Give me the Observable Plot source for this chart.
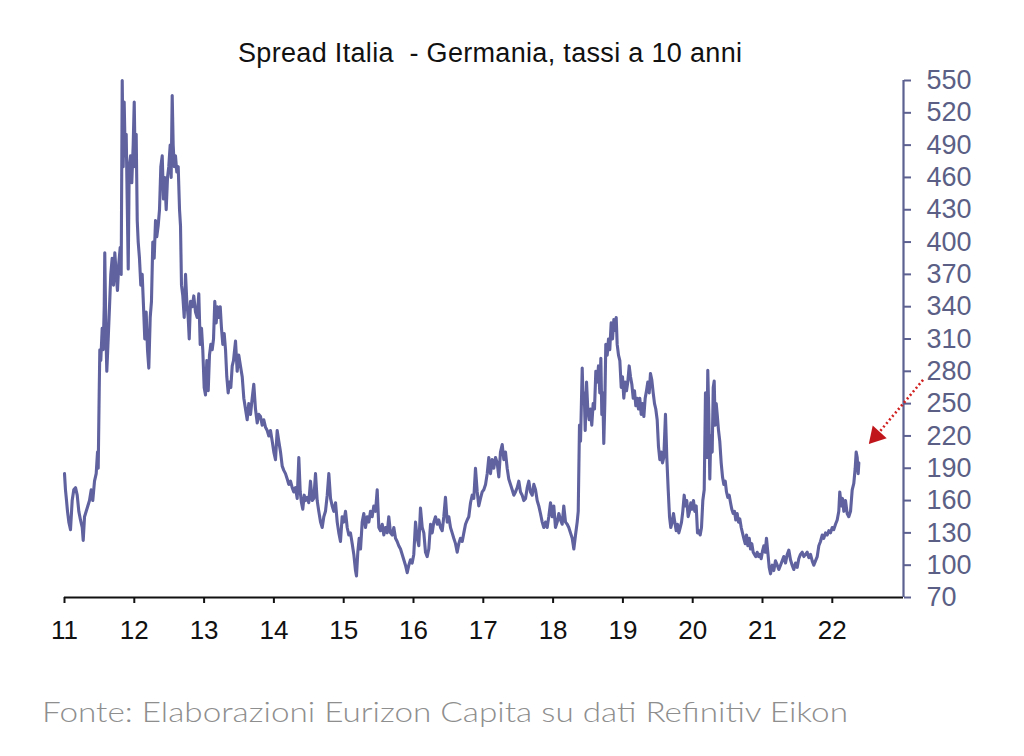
<!DOCTYPE html>
<html>
<head>
<meta charset="utf-8">
<script src="https://cdn.jsdelivr.net/npm/d3@7"></script>
<script src="https://cdn.jsdelivr.net/npm/@observablehq/plot@0.6"></script>
<style>
  html, body { margin: 0; padding: 0; background: #fff; }
  body { width: 1024px; height: 756px; position: relative; overflow: hidden; }
  #title { position: absolute; left: 238px; top: 40px; font-family: "Liberation Sans", Arial, sans-serif; font-size: 27px; line-height: 27px; color: #111; white-space: pre; display: inline-block; }
  #chart { position: absolute; left: 0; top: 70px; }
  #caption { position: absolute; left: 42px; top: 697px; font-family: "Lato", "Open Sans", sans-serif; font-weight: 300; font-size: 28px; line-height: 28px; color: #8e8e8e; white-space: pre; display: inline-block; transform-origin: 0 50%; }
</style>
</head>
<body>
<div id="title"></div>
<div id="chart"></div>
<div id="caption"></div>
<script>
const titleText = "Spread Italia  - Germania, tassi a 10 anni";
const captionText = "Fonte: Elaborazioni Eurizon Capita su dati Refinitiv Eikon";

const years = [
2011.000,2011.014,2011.029,2011.043,2011.062,2011.086,2011.110,2011.133,2011.158,2011.182,2011.205,2011.229,2011.254,2011.268,2011.287,2011.311,2011.334,2011.358,2011.383,2011.405,2011.430,2011.454,2011.473,2011.483,2011.497,2011.506,2011.520,2011.540,2011.554,2011.569,2011.577,2011.592,2011.606,2011.626,2011.645,2011.663,2011.683,2011.702,2011.721,2011.741,2011.759,2011.778,2011.798,2011.812,2011.827,2011.841,2011.855,2011.870,2011.884,2011.898,2011.913,2011.927,2011.946,2011.964,2011.984,2011.999,
2012.013,2012.027,2012.042,2012.056,2012.074,2012.093,2012.113,2012.132,2012.150,2012.170,2012.189,2012.208,2012.228,2012.246,2012.265,2012.285,2012.304,2012.322,2012.342,2012.361,2012.380,2012.400,2012.418,2012.437,2012.457,2012.476,2012.494,2012.514,2012.528,2012.543,2012.557,2012.572,2012.590,2012.609,2012.629,2012.648,2012.662,2012.676,2012.695,2012.715,2012.734,2012.752,2012.772,2012.787,2012.805,2012.830,2012.852,2012.877,2012.901,2012.924,2012.944,2012.963,2012.981,
2013.001,2013.020,2013.039,2013.059,2013.077,2013.096,2013.116,2013.135,2013.153,2013.173,2013.192,2013.211,2013.231,2013.249,2013.268,2013.288,2013.307,2013.325,2013.345,2013.364,2013.383,2013.403,2013.421,2013.450,2013.474,2013.497,2013.521,2013.546,2013.569,2013.593,2013.617,2013.640,2013.665,2013.689,2013.712,2013.736,2013.761,2013.784,2013.808,2013.832,2013.855,2013.880,2013.904,2013.927,2013.951,2013.976,2013.999,
2014.023,2014.047,2014.070,2014.095,2014.119,2014.142,2014.166,2014.191,2014.213,2014.238,2014.262,2014.285,2014.309,2014.334,2014.357,2014.377,2014.395,2014.414,2014.434,2014.453,2014.477,2014.500,2014.524,2014.549,2014.572,2014.596,2014.620,2014.643,2014.668,2014.692,2014.715,2014.739,2014.764,2014.787,2014.811,2014.835,2014.858,2014.883,2014.907,2014.930,2014.954,2014.978,
2015.001,2015.026,2015.050,2015.073,2015.097,2015.122,2015.145,2015.169,2015.183,2015.202,2015.222,2015.241,2015.265,2015.288,2015.312,2015.337,2015.360,2015.384,2015.408,2015.431,2015.456,2015.480,2015.503,2015.527,2015.552,2015.575,2015.599,2015.623,2015.646,2015.670,2015.695,2015.718,2015.742,2015.766,2015.789,2015.814,2015.838,2015.861,2015.885,2015.910,2015.933,2015.957,2015.981,
2016.004,2016.029,2016.053,2016.076,2016.100,2016.125,2016.148,2016.172,2016.196,2016.219,2016.244,2016.268,2016.291,2016.315,2016.340,2016.362,2016.387,2016.411,2016.434,2016.458,2016.483,2016.506,2016.530,2016.554,2016.577,2016.602,2016.626,2016.649,2016.673,2016.698,2016.721,2016.745,2016.769,2016.792,2016.817,2016.841,2016.864,2016.888,2016.913,2016.935,2016.960,2016.984,
2017.007,2017.032,2017.056,2017.079,2017.103,2017.127,2017.150,2017.175,2017.199,2017.222,2017.246,2017.271,2017.294,2017.318,2017.342,2017.365,2017.390,2017.414,2017.437,2017.461,2017.486,2017.509,2017.533,2017.557,2017.580,2017.605,2017.629,2017.652,2017.676,2017.701,2017.724,2017.748,2017.772,2017.795,2017.819,2017.844,2017.867,2017.891,2017.915,2017.938,2017.963,2017.987,
2018.010,2018.034,2018.059,2018.082,2018.106,2018.130,2018.153,2018.178,2018.202,2018.225,2018.249,2018.274,2018.297,2018.321,2018.345,2018.360,2018.378,2018.393,2018.417,2018.431,2018.446,2018.460,2018.479,2018.497,2018.517,2018.536,2018.554,2018.574,2018.593,2018.612,2018.632,2018.650,2018.669,2018.684,2018.698,2018.712,2018.726,2018.741,2018.755,2018.775,2018.794,2018.812,2018.832,2018.851,2018.870,2018.890,2018.904,2018.918,2018.937,2018.956,2018.976,2018.994,
2019.013,2019.033,2019.052,2019.070,2019.090,2019.109,2019.128,2019.148,2019.166,2019.185,2019.205,2019.223,2019.242,2019.262,2019.281,2019.300,2019.319,2019.338,2019.357,2019.377,2019.395,2019.414,2019.434,2019.453,2019.471,2019.491,2019.510,2019.529,2019.549,2019.567,2019.586,2019.610,2019.629,2019.649,2019.668,2019.686,2019.706,2019.725,2019.743,2019.764,2019.782,2019.801,2019.821,2019.840,2019.858,2019.878,2019.897,2019.915,2019.935,2019.954,2019.973,2019.993,
2020.011,2020.030,2020.050,2020.069,2020.087,2020.107,2020.126,2020.145,2020.165,2020.183,2020.202,2020.216,2020.231,2020.245,2020.259,2020.279,2020.294,2020.308,2020.322,2020.337,2020.351,2020.370,2020.388,2020.408,2020.427,2020.446,2020.466,2020.484,2020.503,2020.523,2020.542,2020.560,2020.580,2020.599,2020.617,2020.637,2020.656,2020.675,2020.695,2020.713,2020.732,2020.752,2020.771,2020.790,2020.810,2020.828,2020.847,2020.867,2020.885,2020.904,2020.924,2020.943,2020.961,2020.981,
2021.000,2021.019,2021.039,2021.057,2021.076,2021.096,2021.115,2021.139,2021.162,2021.186,2021.211,2021.234,2021.258,2021.282,2021.305,2021.330,2021.354,2021.377,2021.401,2021.425,2021.448,2021.473,2021.497,2021.520,2021.544,2021.569,2021.592,2021.616,2021.640,2021.663,2021.688,2021.712,2021.735,2021.759,2021.784,2021.807,2021.831,2021.855,2021.878,2021.903,2021.927,2021.950,2021.974,2021.999,
2022.021,2022.046,2022.070,2022.093,2022.107,2022.128,2022.146,2022.165,2022.189,2022.213,2022.236,2022.261,2022.285,2022.308,2022.328,2022.342,2022.357,2022.371,2022.380
];

const spread = [
185,170,160,150,140,133,160,170,172,165,150,142,135,123,145,150,155,160,170,160,178,185,205,190,260,300,290,320,300,340,390,320,280,310,340,370,385,360,390,370,355,380,395,370,550,470,530,480,500,440,375,470,480,455,490,530,
470,500,420,400,385,360,370,340,310,335,300,283,330,345,400,385,420,405,415,430,470,480,440,460,430,460,470,490,460,536,490,470,480,465,470,430,415,360,350,330,370,345,330,310,345,340,350,335,330,352,305,320,300,
265,258,290,262,295,305,300,310,345,325,340,330,340,320,305,315,300,275,260,270,265,285,290,308,280,295,285,275,255,245,235,250,240,255,268,245,232,240,238,230,235,228,225,220,225,215,205,
198,225,215,205,192,188,185,180,175,178,172,168,172,162,200,168,158,152,165,160,163,158,178,160,162,185,160,150,140,135,145,150,165,185,162,155,150,158,140,130,122,145,
140,150,135,128,130,120,110,95,90,112,125,115,140,148,135,145,140,150,145,155,150,170,135,132,138,128,135,130,145,130,128,135,125,122,118,115,110,105,100,93,100,105,102,
110,140,125,118,153,135,130,112,108,115,138,130,140,145,138,142,135,132,145,163,140,145,135,130,125,120,112,120,125,122,130,138,142,145,158,165,162,190,168,155,162,168,
170,175,185,200,185,198,190,200,195,182,205,212,198,205,190,180,175,170,165,168,172,178,168,165,160,162,172,178,168,165,175,170,160,155,148,140,135,140,135,145,158,145,
155,135,140,148,142,138,155,140,138,135,130,125,115,128,140,150,230,215,283,250,260,225,270,245,235,245,230,250,245,280,270,285,260,292,240,260,213,250,305,295,310,300,325,310,328,318,330,305,295,290,265,275,
255,270,262,270,285,275,268,255,262,248,255,245,255,240,250,238,255,262,270,260,278,272,260,250,245,235,210,198,205,195,200,240,200,170,145,135,140,148,140,132,138,130,135,140,150,165,155,160,145,150,158,152,
160,150,155,130,132,128,135,160,170,260,200,281,240,180,220,205,265,271,230,250,240,225,215,195,182,175,178,168,163,165,158,152,148,150,142,148,140,143,135,130,125,120,128,118,125,115,120,112,110,108,112,108,110,106,
113,118,112,125,112,98,92,100,95,104,100,96,100,104,108,102,110,114,105,100,96,102,98,106,110,112,108,110,112,107,110,104,100,104,108,118,122,128,125,130,128,132,130,135,
133,138,142,150,168,155,162,150,160,148,145,150,170,176,190,205,200,185,195
];

const xTicks = [2011, 2012, 2013, 2014, 2015, 2016, 2017, 2018, 2019, 2020, 2021, 2022];
const yTicks = [70, 100, 130, 160, 190, 220, 250, 280, 310, 340, 370, 400, 430, 460, 490, 520, 550];
const xDomain = [2011, 2023.02];
const yDomain = [70, 550];

// annotation arrow (data coordinates)
const arrowStart = { t: 2023.30, v: 272 };
const arrowHead = { t: 2022.627, v: 220 };

const data = years.map((t, i) => ({ t, v: spread[i] }));

const lineColor = "#5f629f";
const axisBlue = "#5c6190";

const chart = Plot.plot({
  width: 1024,
  height: 580,
  marginTop: 10,
  marginBottom: 53,
  marginLeft: 64,
  marginRight: 121,
  x: { domain: xDomain },
  y: { domain: yDomain },
  style: { fontFamily: '"Liberation Sans", Arial, sans-serif', background: "#fff", overflow: "visible" },
  marks: [
    Plot.lineY(data, { x: "t", y: "v", stroke: lineColor, strokeWidth: 3.1, strokeLinejoin: "round" }),
    Plot.ruleY([yDomain[0]], { stroke: "#111", strokeWidth: 2 }),
    Plot.ruleX([xDomain[1]], { stroke: axisBlue, strokeWidth: 2.2 }),
    Plot.axisX({
      ticks: xTicks, tickSize: 6, tickPadding: 17,
      tickFormat: d => String(d).slice(2),
      fontSize: 26, stroke: "#111", fill: "#111", strokeWidth: 2
    }),
    Plot.axisY({
      anchor: "right", ticks: yTicks, tickSize: 7, tickPadding: 16,
      tickFormat: d => String(d),
      fontSize: 27, stroke: axisBlue, fill: "#5b5f86", strokeWidth: 2
    }),
    Plot.link([{ x1: arrowStart.t, y1: arrowStart.v, x2: arrowHead.t, y2: arrowHead.v }], {
      x1: "x1", y1: "y1", x2: "x2", y2: "y2",
      stroke: "#d0201f", strokeWidth: 2.6, strokeDasharray: "2,2.6"
    }),
    Plot.dot([arrowHead], { x: "t", y: "v", symbol: "triangle", r: 7, fill: "#c0161b", stroke: "none", rotate: 222 })
  ]
});
document.getElementById("chart").appendChild(chart);

function fitSpacing(el, text, target) {
  el.textContent = text;
  const w = el.getBoundingClientRect().width;
  const ls = (target - w) / (text.length - 1);
  el.style.letterSpacing = ls + "px";
}
function fitScale(el, text, target) {
  el.textContent = text;
  const w = el.getBoundingClientRect().width;
  el.style.transform = "scaleX(" + (target / w) + ")";
}
fitSpacing(document.getElementById("title"), titleText, 504);
fitScale(document.getElementById("caption"), captionText, 806);
</script>
</body>
</html>
